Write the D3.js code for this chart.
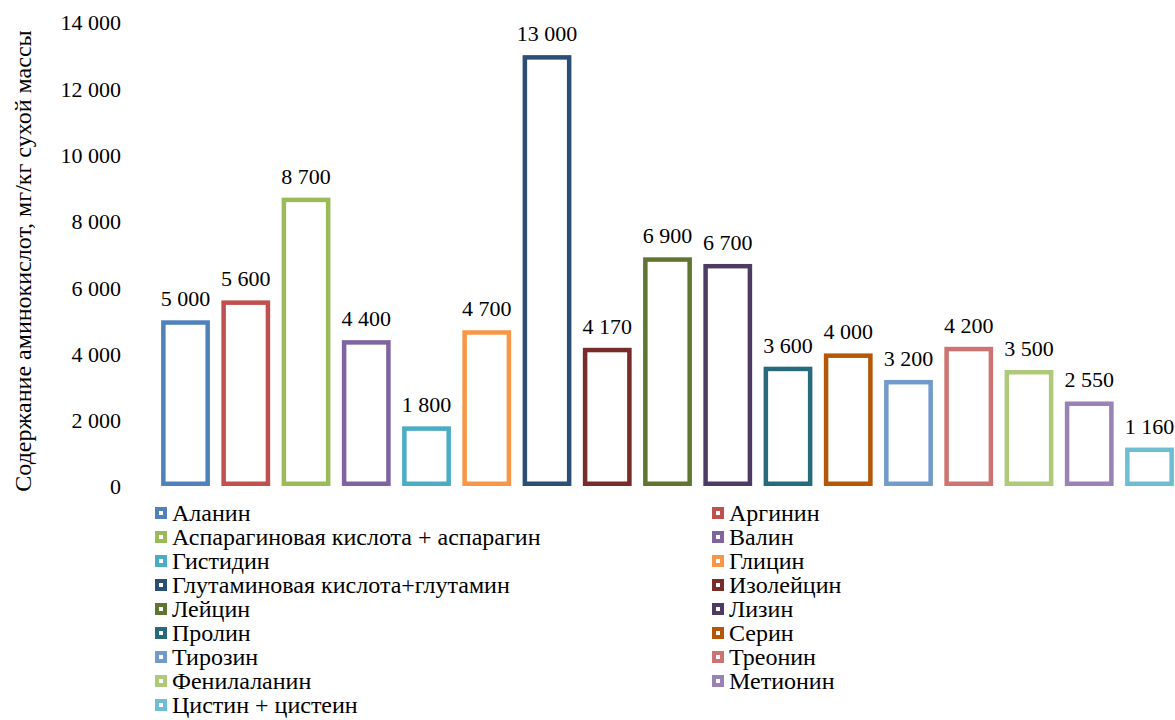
<!DOCTYPE html>
<html>
<head>
<meta charset="utf-8">
<script src="https://cdn.jsdelivr.net/npm/d3@7"></script>
<style>
  html, body { margin: 0; padding: 0; background: #fff; }
  svg, svg text { font-family: "Liberation Serif", Tinos, "Times New Roman", "DejaVu Serif", serif; }
</style>
</head>
<body>
<svg id="chart" width="1175" height="720"></svg>
<script>
// Amino acid content, mg/kg dry matter
const categories = [
  "Аланин", "Аргинин", "Аспарагиновая кислота + аспарагин", "Валин",
  "Гистидин", "Глицин", "Глутаминовая кислота+глутамин", "Изолейцин",
  "Лейцин", "Лизин", "Пролин", "Серин", "Тирозин", "Треонин",
  "Фенилаланин", "Метионин", "Цистин + цистеин"
];
const values = [5000, 5600, 8700, 4400, 1800, 4700, 13000, 4170,
                6900, 6700, 3600, 4000, 3200, 4200, 3500, 2550, 1160];
const colors = [
  "#4F81BD", "#C0504D", "#9BBB59", "#8064A2", "#4BACC6", "#F79646",
  "#2C4D75", "#772C2A", "#5F7530", "#4D3B62", "#276A7C", "#B65708",
  "#729ACA", "#CD7371", "#AFC97A", "#9983B5", "#6FBDD1"
];
const yTicks = [0, 2000, 4000, 6000, 8000, 10000, 12000, 14000];
const yTitle = "Содержание аминокислот, мг/кг сухой массы";

const FONT = '"Liberation Serif", Tinos, "Times New Roman", "DejaVu Serif", serif';
const NUM_SIZE = 22;
const TEXT_SIZE = 24;
const fmt = v => d3.format(",")(v).replace(/,/g, " ");

const svg = d3.select("#chart");

const x = d3.scaleBand()
  .domain(categories)
  .range([155.4, 1179.6])
  .paddingInner(0.19)
  .paddingOuter(0.095);

const y = d3.scaleLinear()
  .domain([0, 14000])
  .range([486, 22]);

// Value axis: labels only, no line or ticks
const yAxis = d3.axisLeft(y)
  .tickValues(yTicks)
  .tickFormat(fmt)
  .tickSize(0)
  .tickPadding(0);

const gy = svg.append("g")
  .attr("transform", "translate(121,0)")
  .call(yAxis)
  .attr("font-family", null);
gy.select(".domain").remove();
gy.selectAll("text")
  .style("font-family", FONT)
  .attr("font-size", NUM_SIZE)
  .attr("fill", "#000")
  .attr("dy", "0.36em");

svg.append("text")
  .attr("transform", "translate(31,261) rotate(-90)")
  .attr("text-anchor", "middle")
  .style("font-family", FONT)
  .attr("font-size", TEXT_SIZE)
  .attr("fill", "#000")
  .text(yTitle);

// Outlined bars
const sw = 4.5;
svg.append("g")
  .selectAll("rect")
  .data(categories)
  .join("rect")
  .attr("x", d => x(d) + sw / 2)
  .attr("width", x.bandwidth() - sw)
  .attr("y", (d, i) => y(values[i]) + sw / 2)
  .attr("height", (d, i) => y(0) - y(values[i]) - sw)
  .attr("fill", "#fff")
  .attr("stroke", (d, i) => colors[i])
  .attr("stroke-width", sw);

// Value labels above each bar
svg.append("g")
  .selectAll("text")
  .data(categories)
  .join("text")
  .attr("x", d => x(d) + x.bandwidth() / 2)
  .attr("y", (d, i) => y(values[i]) - 14)
  .attr("text-anchor", "middle")
  .style("font-family", FONT)
  .attr("font-size", NUM_SIZE)
  .attr("fill", "#000")
  .text((d, i) => fmt(values[i]));

// Legend: two columns, filled row by row
const legend = svg.append("g");
const rowH = 24;
const colX = [150, 707];
const items = legend.selectAll("g")
  .data(categories)
  .join("g")
  .attr("transform", (d, i) => `translate(${colX[i % 2]},${513 + Math.floor(i / 2) * rowH})`);

items.append("rect")
  .attr("x", 7)
  .attr("y", -4)
  .attr("width", 8)
  .attr("height", 8)
  .attr("fill", "#fff")
  .attr("stroke", (d, i) => colors[i])
  .attr("stroke-width", 4);

items.append("text")
  .attr("x", 22)
  .attr("y", 0)
  .attr("dy", "0.35em")
  .style("font-family", FONT)
  .attr("font-size", TEXT_SIZE)
  .attr("fill", "#000")
  .text(d => d);
</script>
</body>
</html>
